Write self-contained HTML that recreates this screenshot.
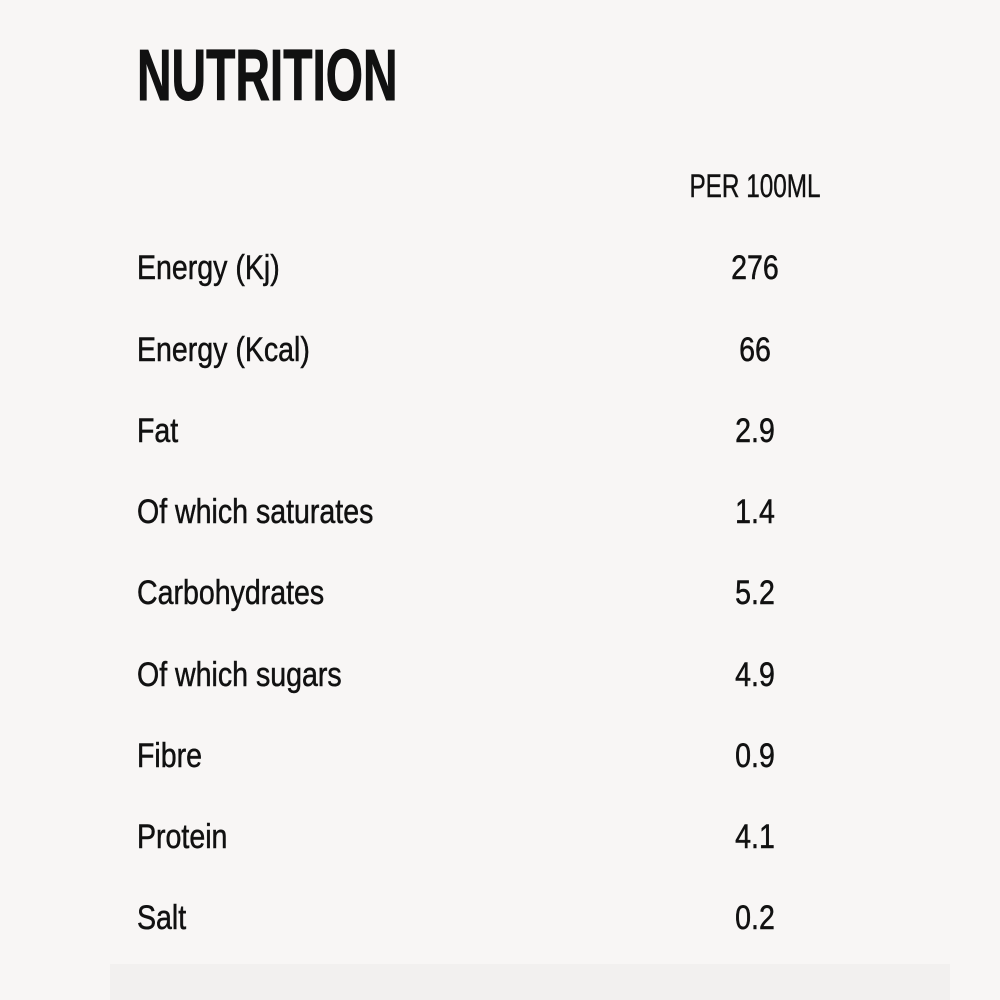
<!DOCTYPE html>
<html><head><meta charset="utf-8"><style>
html,body{margin:0;padding:0;background:#f7f5f4;}
svg{display:block}
</style></head><body>
<svg width="1000" height="1000" xmlns="http://www.w3.org/2000/svg">
<rect width="1000" height="1000" fill="#f8f6f5"/>
<rect x="110" y="964" width="840" height="36" fill="#f2f0ef"/>
<g fill="#111" font-family="Liberation Sans, sans-serif">
<text transform="scale(0.665 1)" x="206" y="100" font-size="72" font-weight="bold" stroke="#111" stroke-width="1">NUTRITION</text>
<text transform="scale(0.76 1)" x="993.4" y="197" text-anchor="middle" font-size="32" stroke="#111" stroke-width="0.4">PER 100ML</text>
<g transform="scale(0.84 1)" font-size="34" stroke="#111" stroke-width="0.5">
<text x="163.1" y="279">Energy (Kj)</text>
<text x="163.1" y="361">Energy (Kcal)</text>
<text x="163.1" y="442">Fat</text>
<text x="163.1" y="523">Of which saturates</text>
<text x="163.1" y="604">Carbohydrates</text>
<text x="163.1" y="686">Of which sugars</text>
<text x="163.1" y="767">Fibre</text>
<text x="163.1" y="848">Protein</text>
<text x="163.1" y="929">Salt</text>
<g text-anchor="middle">
<text x="898.8" y="279">276</text>
<text x="898.8" y="361">66</text>
<text x="898.8" y="442">2.9</text>
<text x="898.8" y="523">1.4</text>
<text x="898.8" y="604">5.2</text>
<text x="898.8" y="686">4.9</text>
<text x="898.8" y="767">0.9</text>
<text x="898.8" y="848">4.1</text>
<text x="898.8" y="929">0.2</text>
</g>
</g>
</g>
</svg>
</body></html>
